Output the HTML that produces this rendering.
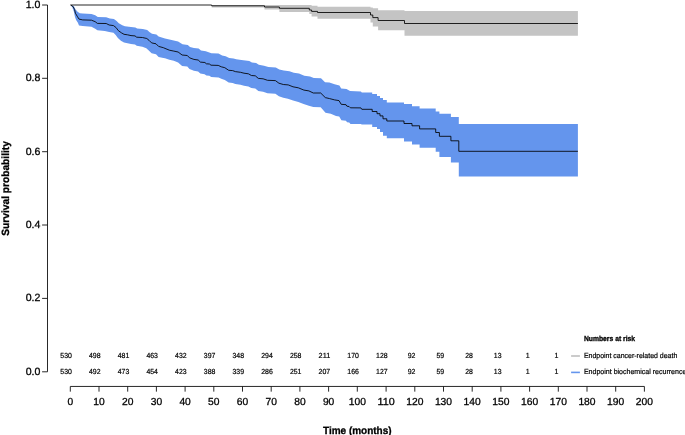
<!DOCTYPE html>
<html><head><meta charset="utf-8"><title>Survival probability</title>
<style>html,body{margin:0;padding:0;background:#fff}svg{display:block;text-rendering:geometricPrecision}text{font-family:"Liberation Sans",sans-serif;fill:#000}.t{font-size:10.5px;stroke:#000;stroke-width:.28px}.x{font-size:10.2px}.s{font-size:7.4px;stroke:#000;stroke-width:.2px}.b{stroke-width:.3px}.b{font-weight:bold}</style></head><body>
<svg width="685" height="435" viewBox="0 0 685 435">
<rect width="685" height="435" fill="#fff"/>
<polygon points="70.6,5.0 211.7,5.0 211.7,5.0 264.5,5.0 264.5,5.0 279.4,5.0 279.4,5.0 309.3,5.0 309.3,5.0 311.6,5.0 311.6,5.8 317.5,5.8 317.5,6.8 370.5,6.8 370.5,7.5 372.8,7.5 372.8,8.2 378.1,8.2 378.1,10.3 404.5,10.3 404.5,11.1 577.9,11.1 577.9,35.8 404.5,35.8 404.5,30.3 378.1,30.3 378.1,26.4 372.8,26.4 372.8,22.5 370.5,22.5 370.5,18.7 317.5,18.7 317.5,16.4 311.6,16.4 311.6,14.1 309.3,14.1 309.3,12.1 279.4,12.1 279.4,9.6 264.5,9.6 264.5,7.6 211.7,7.6 211.7,5.0 70.6,5.0" fill="#c4c4c4"/>
<polygon points="70.6,5.0 73.9,6.3 75.4,9.2 77.6,11.8 79.8,13.2 82.7,13.6 91.5,14.0 95.2,15.3 97.8,16.9 106.2,17.3 109.9,18.4 113.9,19.1 116.6,21.0 118.8,23.2 122.3,25.2 124.9,26.3 131.0,27.1 135.4,27.6 137.1,28.4 142.8,29.1 147.2,30.0 149.4,32.0 152.0,33.7 156.4,34.6 158.6,36.6 163.4,38.1 165.0,38.4 169.4,39.4 178.1,41.4 182.5,44.3 187.8,44.9 190.0,47.0 193.9,48.0 198.6,48.6 201.0,50.5 205.8,51.3 211.4,53.2 218.5,53.6 222.1,55.4 225.6,56.3 229.2,58.1 233.5,58.5 236.2,59.2 241.4,60.1 249.3,61.1 251.9,62.4 256.1,63.1 258.8,64.8 264.0,65.7 268.4,67.0 275.8,67.4 279.3,69.6 283.7,70.5 289.4,71.2 293.8,72.7 299.0,73.6 304.3,75.8 310.0,76.6 313.8,77.9 321.0,78.2 325.0,82.2 329.4,82.6 334.6,84.3 339.4,85.4 341.2,88.5 346.5,88.9 350.0,91.1 360.9,91.4 361.8,92.4 370.0,92.4 372.2,92.4 372.2,94.1 377.0,94.1 377.0,96.0 380.0,96.0 380.0,98.0 383.0,98.0 383.0,100.0 386.8,100.0 386.8,102.4 404.0,102.4 404.0,104.1 412.0,104.1 412.0,106.3 419.6,106.3 419.6,108.5 435.7,108.5 435.7,111.5 439.4,111.5 439.4,113.7 450.9,113.7 450.9,117.0 458.8,117.0 458.8,124.1 577.9,124.1 577.9,176.5 458.8,176.5 458.8,162.4 450.9,162.4 450.9,156.9 439.4,156.9 439.4,151.8 435.7,151.8 435.7,147.8 419.6,147.8 419.6,144.4 412.0,144.4 412.0,141.6 404.0,141.6 404.0,138.2 386.8,138.2 386.8,135.7 383.0,135.7 383.0,132.1 380.0,132.1 380.0,129.1 377.0,129.1 377.0,126.9 372.2,126.9 372.2,124.4 370.0,124.4 361.8,124.4 360.9,124.1 350.5,123.9 349.2,122.6 347.0,122.2 346.0,120.8 341.4,120.2 339.2,116.6 336.0,115.9 330.8,113.7 325.5,112.8 320.7,107.3 313.3,107.1 308.9,105.8 303.6,104.1 298.4,101.9 293.1,100.6 287.9,98.8 283.3,97.8 278.9,96.3 275.4,93.7 267.5,93.3 263.1,91.7 258.3,91.1 255.3,88.5 251.3,88.0 248.4,86.4 244.0,85.7 240.5,84.8 235.3,83.9 232.7,83.0 228.7,82.6 224.8,80.0 221.3,78.8 218.6,77.6 211.2,76.9 209.4,75.8 206.4,75.6 204.6,74.3 200.3,73.4 198.1,71.6 193.9,70.8 189.5,69.0 187.3,66.4 182.1,66.0 178.1,62.5 173.8,60.7 169.4,59.8 165.0,58.3 163.4,58.0 158.6,57.0 156.0,54.3 151.6,53.2 148.5,50.3 146.3,48.2 142.4,46.8 136.7,45.7 135.0,44.6 131.0,44.0 124.0,42.5 120.9,40.7 117.9,38.1 115.7,35.0 113.5,32.8 109.2,32.0 104.8,30.9 97.4,30.3 95.2,28.7 91.5,26.8 82.7,26.1 79.0,25.4 77.9,22.8 76.1,19.9 75.0,16.9 73.9,11.8 72.4,7.4 70.6,5.0" fill="#6495ed"/>
<polyline points="70.6,5.0 211.7,5.0 211.7,5.8 264.5,5.8 264.5,7.0 279.4,7.0 279.4,8.3 309.3,8.3 309.3,10.0 311.6,10.0 311.6,11.4 317.5,11.4 317.5,12.5 370.5,12.5 370.5,15.0 372.8,15.0 372.8,17.6 378.1,17.6 378.1,20.5 404.5,20.5 404.5,23.5 577.9,23.5" fill="none" stroke="#000" stroke-width="0.85"/>
<polyline points="70.6,5.0 73.1,6.6 74.6,9.6 75.4,13.2 77.2,16.2 79.0,19.1 82.7,19.9 91.5,20.2 95.2,21.7 97.4,23.4 106.2,23.5 109.2,25.0 113.5,25.6 116.1,27.6 118.3,30.6 121.4,32.8 124.0,34.3 127.5,34.8 131.0,35.6 135.0,35.9 136.7,37.2 142.4,37.5 146.8,38.5 149.0,40.3 151.6,42.9 156.0,43.8 158.6,46.4 163.4,47.7 165.0,48.4 169.4,50.2 173.8,51.1 178.1,52.0 182.1,55.0 187.3,55.5 189.5,57.8 193.9,59.4 198.2,60.0 200.4,62.1 204.9,62.5 206.4,63.8 209.4,64.0 211.0,65.2 218.2,65.4 221.3,66.8 224.8,67.7 228.7,70.3 232.7,70.6 235.3,71.6 240.5,72.3 244.0,73.2 248.4,73.8 251.4,75.5 255.3,75.8 258.3,78.4 263.1,78.8 267.5,80.3 275.4,80.6 278.9,83.2 283.3,84.5 288.2,84.9 293.0,86.8 298.3,87.8 303.9,90.1 308.9,90.9 313.3,93.0 320.7,93.0 325.3,97.6 329.6,98.6 334.6,99.9 339.0,100.6 341.2,104.3 346.0,104.7 346.9,106.2 349.1,106.5 350.4,107.8 360.9,107.9 361.8,109.3 370.0,109.3 372.2,109.3 372.2,111.5 377.0,111.5 377.0,113.7 380.0,113.7 380.0,115.9 383.0,115.9 383.0,118.8 386.8,118.8 386.8,121.0 404.0,121.0 404.0,123.5 412.0,123.5 412.0,125.8 419.6,125.8 419.6,128.9 435.7,128.9 435.7,132.5 439.4,132.5 439.4,136.3 450.9,136.3 450.9,140.8 458.8,140.8 458.8,151.3 577.9,151.3" fill="none" stroke="#000" stroke-width="0.85"/>
<path d="M47.5,5.0V371.75M42.1,371.8H47.5M42.1,298.4H47.5M42.1,225.0H47.5M42.1,151.7H47.5M42.1,78.3H47.5M42.1,5.0H47.5M70.3,386.45H644.4M70.3,386.45v5.2M99.0,386.45v5.2M127.7,386.45v5.2M156.4,386.45v5.2M185.1,386.45v5.2M213.8,386.45v5.2M242.5,386.45v5.2M271.2,386.45v5.2M299.9,386.45v5.2M328.6,386.45v5.2M357.3,386.45v5.2M386.1,386.45v5.2M414.8,386.45v5.2M443.5,386.45v5.2M472.2,386.45v5.2M500.9,386.45v5.2M529.6,386.45v5.2M558.3,386.45v5.2M587.0,386.45v5.2M615.7,386.45v5.2M644.4,386.45v5.2" fill="none" stroke="#111" stroke-width="0.9"/>
<text class="t" x="40.4" y="374.6" text-anchor="end" textLength="14.7" lengthAdjust="spacingAndGlyphs">0.0</text>
<text class="t" x="40.4" y="301.2" text-anchor="end" textLength="14.7" lengthAdjust="spacingAndGlyphs">0.2</text>
<text class="t" x="40.4" y="227.8" text-anchor="end" textLength="14.7" lengthAdjust="spacingAndGlyphs">0.4</text>
<text class="t" x="40.4" y="154.5" text-anchor="end" textLength="14.7" lengthAdjust="spacingAndGlyphs">0.6</text>
<text class="t" x="40.4" y="81.1" text-anchor="end" textLength="14.7" lengthAdjust="spacingAndGlyphs">0.8</text>
<text class="t" x="40.4" y="7.8" text-anchor="end" textLength="14.7" lengthAdjust="spacingAndGlyphs">1.0</text>
<text class="t x" x="70.3" y="404.7" text-anchor="middle" textLength="5.7" lengthAdjust="spacingAndGlyphs">0</text>
<text class="t x" x="99.0" y="404.7" text-anchor="middle" textLength="11.45" lengthAdjust="spacingAndGlyphs">10</text>
<text class="t x" x="127.7" y="404.7" text-anchor="middle" textLength="11.45" lengthAdjust="spacingAndGlyphs">20</text>
<text class="t x" x="156.4" y="404.7" text-anchor="middle" textLength="11.45" lengthAdjust="spacingAndGlyphs">30</text>
<text class="t x" x="185.1" y="404.7" text-anchor="middle" textLength="11.45" lengthAdjust="spacingAndGlyphs">40</text>
<text class="t x" x="213.8" y="404.7" text-anchor="middle" textLength="11.45" lengthAdjust="spacingAndGlyphs">50</text>
<text class="t x" x="242.5" y="404.7" text-anchor="middle" textLength="11.45" lengthAdjust="spacingAndGlyphs">60</text>
<text class="t x" x="271.2" y="404.7" text-anchor="middle" textLength="11.45" lengthAdjust="spacingAndGlyphs">70</text>
<text class="t x" x="299.9" y="404.7" text-anchor="middle" textLength="11.45" lengthAdjust="spacingAndGlyphs">80</text>
<text class="t x" x="328.6" y="404.7" text-anchor="middle" textLength="11.45" lengthAdjust="spacingAndGlyphs">90</text>
<text class="t x" x="357.3" y="404.7" text-anchor="middle" textLength="17.2" lengthAdjust="spacingAndGlyphs">100</text>
<text class="t x" x="386.1" y="404.7" text-anchor="middle" textLength="17.2" lengthAdjust="spacingAndGlyphs">110</text>
<text class="t x" x="414.8" y="404.7" text-anchor="middle" textLength="17.2" lengthAdjust="spacingAndGlyphs">120</text>
<text class="t x" x="443.5" y="404.7" text-anchor="middle" textLength="17.2" lengthAdjust="spacingAndGlyphs">130</text>
<text class="t x" x="472.2" y="404.7" text-anchor="middle" textLength="17.2" lengthAdjust="spacingAndGlyphs">140</text>
<text class="t x" x="500.9" y="404.7" text-anchor="middle" textLength="17.2" lengthAdjust="spacingAndGlyphs">150</text>
<text class="t x" x="529.6" y="404.7" text-anchor="middle" textLength="17.2" lengthAdjust="spacingAndGlyphs">160</text>
<text class="t x" x="558.3" y="404.7" text-anchor="middle" textLength="17.2" lengthAdjust="spacingAndGlyphs">170</text>
<text class="t x" x="587.0" y="404.7" text-anchor="middle" textLength="17.2" lengthAdjust="spacingAndGlyphs">180</text>
<text class="t x" x="615.7" y="404.7" text-anchor="middle" textLength="17.2" lengthAdjust="spacingAndGlyphs">190</text>
<text class="t x" x="644.4" y="404.7" text-anchor="middle" textLength="17.2" lengthAdjust="spacingAndGlyphs">200</text>
<text class="t b" x="357.3" y="433.6" text-anchor="middle" textLength="68.6" lengthAdjust="spacingAndGlyphs">Time (months)</text>
<text class="t b" transform="translate(8.6,188.4) rotate(-90)" text-anchor="middle" textLength="94.6" lengthAdjust="spacingAndGlyphs">Survival probability</text>
<text class="s" x="66.1" y="358.0" text-anchor="middle" textLength="11.6" lengthAdjust="spacingAndGlyphs">530</text>
<text class="s" x="94.8" y="358.0" text-anchor="middle" textLength="11.6" lengthAdjust="spacingAndGlyphs">498</text>
<text class="s" x="123.5" y="358.0" text-anchor="middle" textLength="11.6" lengthAdjust="spacingAndGlyphs">481</text>
<text class="s" x="152.2" y="358.0" text-anchor="middle" textLength="11.6" lengthAdjust="spacingAndGlyphs">463</text>
<text class="s" x="180.9" y="358.0" text-anchor="middle" textLength="11.6" lengthAdjust="spacingAndGlyphs">432</text>
<text class="s" x="209.6" y="358.0" text-anchor="middle" textLength="11.6" lengthAdjust="spacingAndGlyphs">397</text>
<text class="s" x="238.3" y="358.0" text-anchor="middle" textLength="11.6" lengthAdjust="spacingAndGlyphs">348</text>
<text class="s" x="267.0" y="358.0" text-anchor="middle" textLength="11.6" lengthAdjust="spacingAndGlyphs">294</text>
<text class="s" x="295.7" y="358.0" text-anchor="middle" textLength="11.6" lengthAdjust="spacingAndGlyphs">258</text>
<text class="s" x="324.4" y="358.0" text-anchor="middle" textLength="11.6" lengthAdjust="spacingAndGlyphs">211</text>
<text class="s" x="353.1" y="358.0" text-anchor="middle" textLength="11.6" lengthAdjust="spacingAndGlyphs">170</text>
<text class="s" x="381.9" y="358.0" text-anchor="middle" textLength="11.6" lengthAdjust="spacingAndGlyphs">128</text>
<text class="s" x="411.6" y="358.0" text-anchor="middle" textLength="7.7" lengthAdjust="spacingAndGlyphs">92</text>
<text class="s" x="440.3" y="358.0" text-anchor="middle" textLength="7.7" lengthAdjust="spacingAndGlyphs">59</text>
<text class="s" x="469.0" y="358.0" text-anchor="middle" textLength="7.7" lengthAdjust="spacingAndGlyphs">28</text>
<text class="s" x="497.7" y="358.0" text-anchor="middle" textLength="7.7" lengthAdjust="spacingAndGlyphs">13</text>
<text class="s" x="527.7" y="358.0" text-anchor="middle" textLength="3.9" lengthAdjust="spacingAndGlyphs">1</text>
<text class="s" x="556.4" y="358.0" text-anchor="middle" textLength="3.9" lengthAdjust="spacingAndGlyphs">1</text>
<text class="s" x="66.1" y="374.1" text-anchor="middle" textLength="11.6" lengthAdjust="spacingAndGlyphs">530</text>
<text class="s" x="94.8" y="374.1" text-anchor="middle" textLength="11.6" lengthAdjust="spacingAndGlyphs">492</text>
<text class="s" x="123.5" y="374.1" text-anchor="middle" textLength="11.6" lengthAdjust="spacingAndGlyphs">473</text>
<text class="s" x="152.2" y="374.1" text-anchor="middle" textLength="11.6" lengthAdjust="spacingAndGlyphs">454</text>
<text class="s" x="180.9" y="374.1" text-anchor="middle" textLength="11.6" lengthAdjust="spacingAndGlyphs">423</text>
<text class="s" x="209.6" y="374.1" text-anchor="middle" textLength="11.6" lengthAdjust="spacingAndGlyphs">388</text>
<text class="s" x="238.3" y="374.1" text-anchor="middle" textLength="11.6" lengthAdjust="spacingAndGlyphs">339</text>
<text class="s" x="267.0" y="374.1" text-anchor="middle" textLength="11.6" lengthAdjust="spacingAndGlyphs">286</text>
<text class="s" x="295.7" y="374.1" text-anchor="middle" textLength="11.6" lengthAdjust="spacingAndGlyphs">251</text>
<text class="s" x="324.4" y="374.1" text-anchor="middle" textLength="11.6" lengthAdjust="spacingAndGlyphs">207</text>
<text class="s" x="353.1" y="374.1" text-anchor="middle" textLength="11.6" lengthAdjust="spacingAndGlyphs">166</text>
<text class="s" x="381.9" y="374.1" text-anchor="middle" textLength="11.6" lengthAdjust="spacingAndGlyphs">127</text>
<text class="s" x="411.6" y="374.1" text-anchor="middle" textLength="7.7" lengthAdjust="spacingAndGlyphs">92</text>
<text class="s" x="440.3" y="374.1" text-anchor="middle" textLength="7.7" lengthAdjust="spacingAndGlyphs">59</text>
<text class="s" x="469.0" y="374.1" text-anchor="middle" textLength="7.7" lengthAdjust="spacingAndGlyphs">28</text>
<text class="s" x="497.7" y="374.1" text-anchor="middle" textLength="7.7" lengthAdjust="spacingAndGlyphs">13</text>
<text class="s" x="527.7" y="374.1" text-anchor="middle" textLength="3.9" lengthAdjust="spacingAndGlyphs">1</text>
<text class="s" x="556.4" y="374.1" text-anchor="middle" textLength="3.9" lengthAdjust="spacingAndGlyphs">1</text>
<text class="s b" x="583.9" y="341.1" textLength="51.2" lengthAdjust="spacingAndGlyphs">Numbers at risk</text>
<path d="M571.1,356H579.9" stroke="#bebebe" stroke-width="1.6" fill="none"/>
<path d="M571.1,372.4H579.9" stroke="#6495ed" stroke-width="1.6" fill="none"/>
<text class="s" x="583.9" y="358.1" textLength="93.4" lengthAdjust="spacingAndGlyphs">Endpoint cancer-related death</text>
<text class="s" x="583.9" y="374.2" textLength="102.5" lengthAdjust="spacingAndGlyphs">Endpoint biochemical recurrence</text>
</svg></body></html>
